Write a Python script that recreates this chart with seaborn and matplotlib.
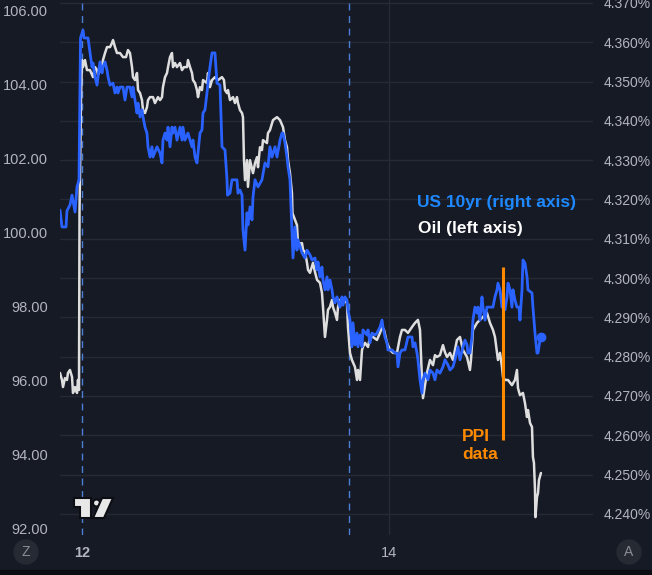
import matplotlib
matplotlib.use("Agg")
import matplotlib.pyplot as plt
import seaborn as sns
import pandas as pd
from matplotlib.patches import Circle, Polygon, Rectangle

# hours counted from the 12th 00:00
oil_hours = [-3.44, -3.13, -2.97, -2.66, -2.35, -2.19, -1.88, -1.56, -1.41, -1.09, -0.78, -0.63, -0.47,
             -0.39, -0.16, 0.00, 0.16, 0.47, 0.78, 1.25, 1.72, 2.03, 2.35, 2.50, 2.81, 3.13, 3.28, 3.60,
             3.91, 4.38, 4.69, 4.85, 5.16, 5.47, 5.94, 6.41, 6.88, 7.19, 7.50, 7.82, 7.97, 8.29, 8.60,
             8.76, 9.07, 9.38, 9.54, 9.85, 10.16, 10.32, 10.63, 11.10, 11.41, 11.88, 12.20, 12.51, 12.66,
             12.98, 13.29, 13.45, 13.76, 14.07, 14.23, 14.54, 14.85, 15.32, 15.64, 15.95, 16.42, 16.57,
             16.89, 17.20, 17.35, 17.67, 17.98, 18.14, 18.45, 18.76, 18.92, 19.54, 19.70, 20.01, 20.33,
             20.79, 21.26, 21.89, 22.20, 22.36, 22.67, 22.83, 23.14, 23.61, 23.92, 24.23, 24.39, 24.70,
             25.02, 25.17, 25.33, 25.49, 25.80, 25.95, 26.27, 26.74, 27.05, 27.36, 27.52, 27.83, 28.14,
             28.30, 28.92, 29.08, 29.39, 29.71, 29.86, 30.49, 30.96, 31.43, 31.74, 32.05, 32.21, 32.52,
             32.83, 32.91, 33.30, 33.61, 33.77, 34.40, 34.56, 34.87, 35.18, 35.34, 35.65, 36.12, 36.43,
             36.75, 37.21, 37.52, 37.68, 37.99, 38.31, 38.46, 38.77, 39.09, 39.24, 39.56, 39.87, 40.03,
             40.34, 40.81, 41.43, 41.59, 41.90, 42.21, 42.68, 43.00, 43.15, 43.47, 43.78, 43.93, 44.25,
             44.72, 45.03, 45.50, 46.12, 46.59, 46.91, 47.22, 47.69, 48.16, 48.63, 49.25, 49.72, 50.03,
             50.50, 50.97, 51.60, 52.07, 52.53, 52.85, 53.16, 53.32, 53.63, 53.94, 54.41, 54.88, 55.19,
             55.50, 55.97, 56.44, 56.75, 57.07, 57.54, 58.00, 58.32, 58.63, 59.10, 59.57, 60.20, 60.66,
             60.82, 61.13, 61.76, 62.22, 62.70, 63.32, 63.79, 64.26, 64.57, 64.89, 65.04, 65.36, 65.67,
             65.82, 66.14, 66.61, 67.23, 67.70, 68.01, 68.17, 68.48, 68.95, 69.26, 69.58, 69.73, 70.05,
             70.36, 70.51, 70.67, 70.83, 70.90, 71.14, 71.30, 71.45, 71.76]
oil_price = [96.21, 96.02, 95.83, 96.07, 96.02, 96.21, 96.29, 96.10, 95.67, 95.83, 95.67, 96.02, 95.75,
             100.55, 103.57, 104.65, 104.46, 104.65, 104.38, 104.38, 104.19, 104.46, 104.38, 104.25,
             104.38, 104.46, 104.65, 104.84, 105.00, 105.00, 105.11, 105.19, 105.00, 104.84, 104.84,
             104.73, 104.73, 104.92, 104.84, 104.46, 104.19, 104.11, 104.30, 103.84, 103.76, 103.57,
             103.30, 103.22, 103.38, 103.57, 103.65, 103.65, 103.49, 103.65, 103.57, 103.65, 103.92,
             104.19, 104.30, 104.46, 104.73, 104.84, 104.46, 104.57, 104.46, 104.57, 104.38, 104.46,
             104.46, 104.65, 104.46, 104.30, 104.11, 104.03, 103.84, 103.65, 103.92, 103.84, 104.11,
             104.03, 104.30, 103.92, 104.11, 104.19, 104.11, 104.19, 104.11, 103.84, 103.76, 103.84,
             103.57, 103.65, 103.49, 103.65, 103.49, 103.30, 103.22, 103.11, 101.95, 101.41, 101.95,
             101.23, 101.95, 101.60, 101.87, 102.03, 101.76, 102.30, 102.22, 102.49, 102.41, 102.68,
             102.76, 102.95, 103.03, 103.11, 103.03, 102.84, 102.49, 102.30, 101.95, 101.60, 101.06,
             100.52, 100.34, 100.20, 99.71, 99.71, 99.53, 99.47, 99.18, 98.99, 98.91, 99.18, 98.93,
             98.72, 98.64, 98.37, 97.99, 97.18, 97.64, 97.91, 97.99, 98.18, 97.99, 97.83, 97.64, 97.99,
             98.18, 98.18, 98.10, 97.45, 96.75, 96.56, 96.37, 96.02, 96.29, 96.02, 96.83, 96.91, 97.02,
             96.91, 97.18, 97.18, 97.10, 97.29, 97.45, 97.37, 97.02, 96.83, 96.75, 96.75, 97.18, 97.37,
             97.37, 97.29, 97.45, 97.56, 97.64, 97.37, 96.02, 95.53, 95.88, 96.21, 96.56, 96.42, 96.69,
             96.64, 96.69, 96.96, 96.77, 96.64, 96.75, 96.56, 96.83, 97.10, 97.18, 96.83, 96.64, 96.29,
             96.56, 97.37, 97.56, 97.64, 97.72, 97.83, 97.56, 97.37, 97.18, 96.75, 96.56, 96.75, 96.37,
             96.10, 96.02, 96.02, 95.88, 96.02, 96.29, 95.80, 95.61, 95.67, 95.40, 95.02, 95.21, 94.86,
             94.75, 93.94, 93.78, 93.05, 92.32, 92.86, 92.97, 93.32, 93.51]

yield_hours = [-3.44, -3.13, -2.50, -2.35, -1.88, -1.56, -1.09, -0.78, -0.47, -0.23, 0.16, 0.31, 0.94,
               1.25, 1.56, 1.72, 2.03, 2.35, 2.50, 2.81, 3.13, 3.28, 3.60, 3.91, 4.07, 4.38, 4.85, 5.16,
               5.47, 5.63, 5.94, 6.41, 6.72, 7.04, 7.50, 7.82, 7.97, 8.29, 8.60, 8.76, 9.07, 9.38, 9.54,
               9.85, 10.16, 10.32, 10.63, 10.94, 11.10, 11.73, 12.20, 12.51, 12.66, 12.98, 13.29, 13.45,
               13.76, 14.07, 14.23, 14.54, 14.85, 15.32, 15.64, 15.79, 16.10, 16.57, 17.20, 17.35, 17.67,
               17.98, 18.14, 18.45, 18.76, 18.92, 19.23, 19.54, 19.70, 20.01, 20.33, 20.79, 21.11, 21.58,
               21.89, 22.36, 22.67, 22.75, 23.14, 23.45, 23.92, 24.23, 24.39, 24.70, 25.02, 25.17, 25.49,
               25.80, 25.95, 26.27, 26.58, 26.74, 27.05, 27.52, 28.14, 28.61, 29.08, 29.39, 29.71, 30.18,
               30.49, 30.96, 31.27, 31.43, 31.74, 32.05, 32.21, 32.52, 32.83, 32.99, 33.30, 33.61, 33.77,
               34.40, 34.87, 35.18, 35.65, 35.96, 36.43, 36.75, 36.90, 37.21, 37.52, 37.68, 37.99, 38.31,
               38.46, 38.77, 39.09, 39.24, 39.56, 39.87, 40.03, 40.34, 40.65, 40.81, 41.12, 41.43, 41.59,
               41.90, 42.21, 42.37, 42.68, 43.00, 43.15, 43.47, 43.78, 43.93, 44.56, 44.72, 45.03, 45.34,
               45.81, 46.12, 46.59, 46.91, 47.06, 47.37, 47.69, 47.84, 48.47, 48.94, 49.25, 49.41, 49.72,
               50.03, 50.50, 50.97, 51.60, 51.75, 52.07, 52.38, 52.53, 52.85, 53.16, 53.32, 53.63, 54.10,
               54.41, 54.88, 55.19, 55.50, 55.97, 56.44, 56.75, 57.22, 57.54, 58.00, 58.32, 58.79, 59.10,
               59.57, 59.88, 60.20, 60.35, 60.66, 60.98, 61.13, 61.44, 61.76, 61.91, 62.22, 62.54, 62.70,
               63.01, 63.32, 64.26, 64.57, 64.89, 65.04, 65.36, 65.67, 65.82, 66.14, 66.45, 66.61, 66.92,
               67.23, 67.39, 67.70, 68.01, 68.33, 68.48, 68.80, 68.95, 69.26, 69.58, 69.73, 70.36, 70.51,
               70.83, 71.14, 71.30, 71.61, 71.76]
us10y = [4.3173, 4.3130, 4.3130, 4.3171, 4.3186, 4.3211, 4.3168, 4.3232, 4.3250, 4.3611, 4.3631, 4.3611,
         4.3611, 4.3573, 4.3537, 4.3547, 4.3512, 4.3491, 4.3512, 4.3550, 4.3522, 4.3537, 4.3550, 4.3529,
         4.3512, 4.3491, 4.3496, 4.3471, 4.3486, 4.3471, 4.3486, 4.3486, 4.3453, 4.3486, 4.3486, 4.3461,
         4.3486, 4.3453, 4.3420, 4.3445, 4.3410, 4.3428, 4.3410, 4.3384, 4.3369, 4.3334, 4.3308, 4.3334,
         4.3308, 4.3334, 4.3318, 4.3293, 4.3351, 4.3369, 4.3351, 4.3384, 4.3334, 4.3384, 4.3369, 4.3384,
         4.3351, 4.3384, 4.3351, 4.3384, 4.3351, 4.3369, 4.3334, 4.3351, 4.3308, 4.3293, 4.3318, 4.3369,
         4.3377, 4.3420, 4.3428, 4.3471, 4.3496, 4.3537, 4.3573, 4.3573, 4.3496, 4.3491, 4.3334, 4.3326,
         4.3250, 4.3211, 4.3216, 4.3250, 4.3250, 4.3250, 4.3216, 4.3224, 4.3211, 4.3122, 4.3071, 4.3166,
         4.3135, 4.3181, 4.3148, 4.3206, 4.3250, 4.3232, 4.3250, 4.3293, 4.3283, 4.3334, 4.3308, 4.3334,
         4.3308, 4.3351, 4.3369, 4.3369, 4.3344, 4.3308, 4.3283, 4.3250, 4.3122, 4.3051, 4.3130, 4.3071,
         4.3097, 4.3064, 4.3051, 4.3071, 4.3059, 4.3046, 4.3051, 4.3021, 4.3041, 4.3003, 4.3028, 4.2995,
         4.2970, 4.3003, 4.2970, 4.2995, 4.2970, 4.2952, 4.2937, 4.2952, 4.2944, 4.2926, 4.2952, 4.2931,
         4.2952, 4.2944, 4.2919, 4.2893, 4.2825, 4.2886, 4.2830, 4.2860, 4.2825, 4.2855, 4.2825, 4.2868,
         4.2855, 4.2868, 4.2835, 4.2860, 4.2855, 4.2860, 4.2875, 4.2893, 4.2875, 4.2850, 4.2835, 4.2817,
         4.2817, 4.2809, 4.2809, 4.2774, 4.2809, 4.2817, 4.2817, 4.2850, 4.2850, 4.2825, 4.2835, 4.2809,
         4.2792, 4.2741, 4.2707, 4.2741, 4.2758, 4.2741, 4.2766, 4.2758, 4.2741, 4.2766, 4.2758, 4.2774,
         4.2792, 4.2779, 4.2766, 4.2774, 4.2792, 4.2825, 4.2792, 4.2825, 4.2842, 4.2830, 4.2809, 4.2809,
         4.2850, 4.2893, 4.2926, 4.2911, 4.2926, 4.2893, 4.2952, 4.2926, 4.2893, 4.2926, 4.2926, 4.2952,
         4.2970, 4.2987, 4.2970, 4.2926, 4.2931, 4.2919, 4.2952, 4.2987, 4.2970, 4.2926, 4.2970, 4.2944,
         4.2926, 4.2926, 4.2893, 4.2970, 4.3046, 4.3038, 4.3003, 4.2970, 4.2962, 4.2926, 4.2860, 4.2809,
         4.2809, 4.2842, 4.2850]

ppi_hour = 65.85
ppi_span = [4.2588, 4.3028]
session_breaks = [0.0, 41.75]
oil_ticks = [92, 94, 96, 98, 100, 102, 104, 106]
yield_ticks = [4.24, 4.25, 4.26, 4.27, 4.28, 4.29, 4.30, 4.31, 4.32, 4.33, 4.34, 4.35, 4.36, 4.37]
day_ticks = [0, 48]
day_labels = ["12", "14"]

oil_lim = (91.838, 106.27)
yld_lim = (4.23461, 4.37076)
hour_lim = (-3.44, 79.9)

BG = "#161a25"
GRID = "#262a36"
TXT = "#b2b5be"
BLUE = "#2962ff"
OIL = "#dedede"
ORANGE = "#ff8a00"

sns.set_style("dark", rc={"axes.facecolor": BG, "figure.facecolor": BG})
plt.rcParams["font.family"] = ["Liberation Sans", "DejaVu Sans"]

oil_df = pd.DataFrame({"hour": oil_hours, "price": oil_price})
yld_df = pd.DataFrame({"hour": yield_hours, "yield": us10y})

fig = plt.figure(figsize=(6.52, 5.75), dpi=100)
ax = fig.add_axes([60 / 652, 40 / 575, 533 / 652, 535 / 575])
ax2 = ax.twinx()

# grid: horizontal lines follow the right axis ticks, drawn on the left axes so they stay under the lines
grid_pos = [oil_lim[0] + (t - yld_lim[0]) / (yld_lim[1] - yld_lim[0]) * (oil_lim[1] - oil_lim[0])
            for t in yield_ticks]
for g in grid_pos:
    ax.axhline(g, color=GRID, lw=1, zorder=0)
ax.axvline(day_ticks[1], color=GRID, lw=1, zorder=0)
for s in session_breaks:
    ax.axvline(s, color="#4d7ed6", lw=1, ls=(0, (5, 4)), zorder=1)

sns.lineplot(data=oil_df, x="hour", y="price", ax=ax, color=OIL, lw=1.8,
             estimator=None, sort=False, zorder=3)
sns.lineplot(data=yld_df, x="hour", y="yield", ax=ax2, color=BLUE, lw=2.0,
             estimator=None, sort=False, zorder=3)
ax2.plot(yield_hours[-1], us10y[-1], "o", color=BLUE, ms=6, zorder=4)
ax2.vlines(ppi_hour, ppi_span[0], ppi_span[1], color=ORANGE, lw=2.2, zorder=5)

ax.set_xlim(hour_lim)
ax.set_ylim(oil_lim)
ax2.set_ylim(yld_lim)

ax.set_yticks(oil_ticks)
ax.set_yticklabels([f"{v:.2f}" for v in oil_ticks])
ax2.set_yticks(yield_ticks)
ax2.set_yticklabels([f"{v:.3f}%" for v in yield_ticks])
ax.set_xticks(day_ticks)
ax.set_xticklabels(day_labels)
ax.xaxis.get_ticklabels()[0].set_fontweight("bold")
ax.xaxis.get_ticklabels()[0].set_color("#d1d4dc")

ax.tick_params(axis="y", length=0, pad=8.5, labelsize=10.5, labelcolor=TXT)
ax2.tick_params(axis="y", length=0, pad=7.5, labelsize=10, labelcolor=TXT)
ax.tick_params(axis="x", length=0, pad=8, labelsize=10.5, labelcolor=TXT)
ax.set_xlabel("")
ax.set_ylabel("")
ax2.set_ylabel("")
ax.grid(False)
ax2.grid(False)
for a in (ax, ax2):
    for sp in a.spines.values():
        sp.set_visible(False)

ax.text(0.670, 0.6224, "US 10yr (right axis)", transform=ax.transAxes, color="#1e88ff",
        fontsize=12.5, fontweight="bold", va="center", ha="left")
ax.text(0.672, 0.5738, "Oil (left axis)", transform=ax.transAxes, color="white",
        fontsize=12.5, fontweight="bold", va="center", ha="left")
ax.text(0.754, 0.168, "PPI\ndata", transform=ax.transAxes, color=ORANGE,
        fontsize=12.5, fontweight="bold", va="center", ha="left", linespacing=1.25)

# bottom strip, scale buttons and logo (figure inches)
tr = fig.dpi_scale_trans
fig.add_artist(Rectangle((0, 0), 6.52, 0.05, transform=tr, color="#0c0e14"))
for cx, lab in [(0.26, "Z"), (6.29, "A")]:
    fig.add_artist(Circle((cx, 0.23), 0.12, transform=tr, color="#262a33"))
    fig.text(cx / 6.52, 0.23 / 5.75, lab, color="#8a8d96", fontsize=10, ha="center", va="center")
logo_kw = dict(transform=tr, facecolor="#e8e8e8", edgecolor="#0c0e14", lw=1.5)
fig.add_artist(Polygon([(0.74, 0.77), (0.91, 0.77), (0.91, 0.57), (0.80, 0.57), (0.80, 0.68),
                        (0.74, 0.68)], **logo_kw))
fig.add_artist(Circle((0.965, 0.72), 0.035, **logo_kw))
fig.add_artist(Polygon([(1.02, 0.77), (1.13, 0.77), (1.04, 0.57), (0.93, 0.57)], **logo_kw))

fig.savefig("out.png", dpi=100, facecolor=BG)
